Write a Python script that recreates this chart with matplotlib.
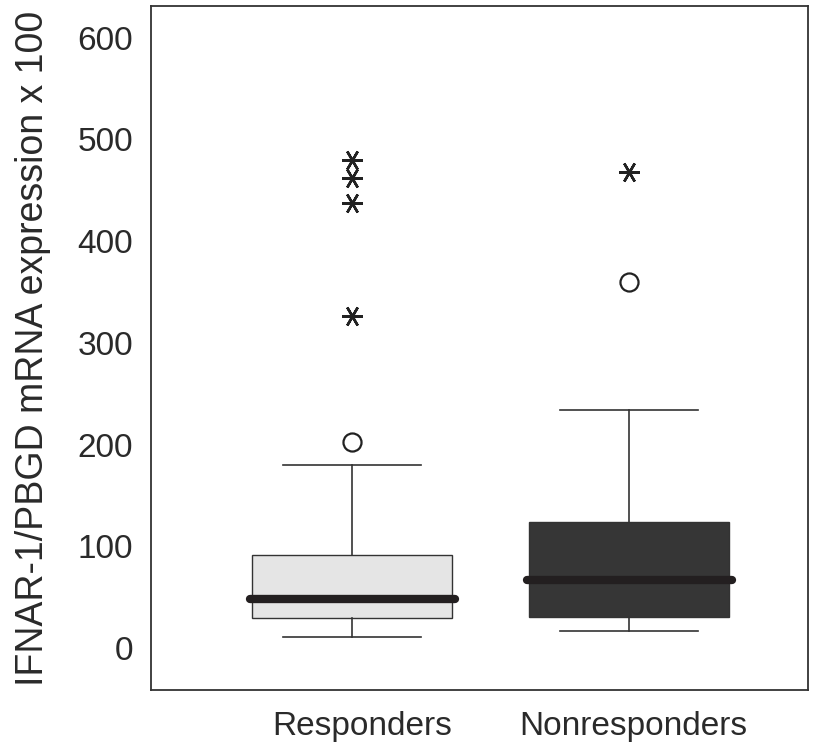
import matplotlib
matplotlib.use("Agg")
import matplotlib.pyplot as plt
from matplotlib.transforms import ScaledTranslation

plt.rcParams['font.family'] = ['Liberation Sans', 'DejaVu Sans']

groups = ["Responders", "Nonresponders"]
whislo = [11, 17]
q1 = [29.5, 30.5]
med = [48.5, 67.5]
q3 = [92, 124]
whishi = [180, 234]
circle_out = [[203], [360]]
star_out = [[480, 462, 437, 326], [468]]
box_colors = ["#e5e5e5", "#363636"]
yticks = [0, 100, 200, 300, 400, 500, 600]

fig = plt.figure(figsize=(8.19, 7.44), dpi=100)
ax = fig.add_axes([151/819, 54/744, 657/819, 684/744])

stats = []
for i, g in enumerate(groups):
    stats.append(dict(label=g, whislo=whislo[i], q1=q1[i], med=med[i],
                      q3=q3[i], whishi=whishi[i], fliers=[]))
positions = [1, 2]
bp = ax.bxp(stats, positions=positions, widths=0.72, patch_artist=True,
            showfliers=False,
            boxprops=dict(edgecolor="#333333", linewidth=1.0),
            whiskerprops=dict(color="#333333", linewidth=1.2),
            capprops=dict(color="#333333", linewidth=1.2),
            medianprops=dict(color="#231f20", linewidth=6, solid_capstyle='round'),
            capwidths=0.5)
for patch, c in zip(bp['boxes'], box_colors):
    patch.set_facecolor(c)
for m in bp['medians']:
    x = m.get_xdata()
    m.set_xdata([x[0] - 0.01, x[1] + 0.01])

for i, p in enumerate(positions):
    ax.plot([p]*len(circle_out[i]), circle_out[i], linestyle='none', marker='o',
            markersize=13, markerfacecolor='none', markeredgecolor='#222222',
            markeredgewidth=1.6)
    ax.plot([p]*len(star_out[i]), star_out[i], linestyle='none', marker=(6, 2, 90),
            markersize=15, markeredgecolor='#222222', markeredgewidth=1.8)

ax.set_xlim(0.274, 2.646)
ax.set_ylim(-41, 631)
ax.set_yticks(yticks)
ax.set_yticklabels([str(v) for v in yticks])
ax.set_xticks(positions)
ax.set_xticklabels(groups)
ax.tick_params(axis='both', length=0, labelsize=24, colors='#2a2a2a')
ax.tick_params(axis='y', pad=13)
ax.tick_params(axis='x', pad=15)
for lbl, dx in zip(ax.get_xticklabels(), [10, 4]):
    lbl.set_transform(lbl.get_transform() + ScaledTranslation(dx/100, 0, fig.dpi_scale_trans))
for s in ax.spines.values():
    s.set_color('#333333')
    s.set_linewidth(1.3)
ax.set_ylabel("IFNAR-1/PBGD mRNA expression x 100", fontsize=27, color='#2a2a2a', labelpad=19)

fig.savefig("out.png", dpi=100)
